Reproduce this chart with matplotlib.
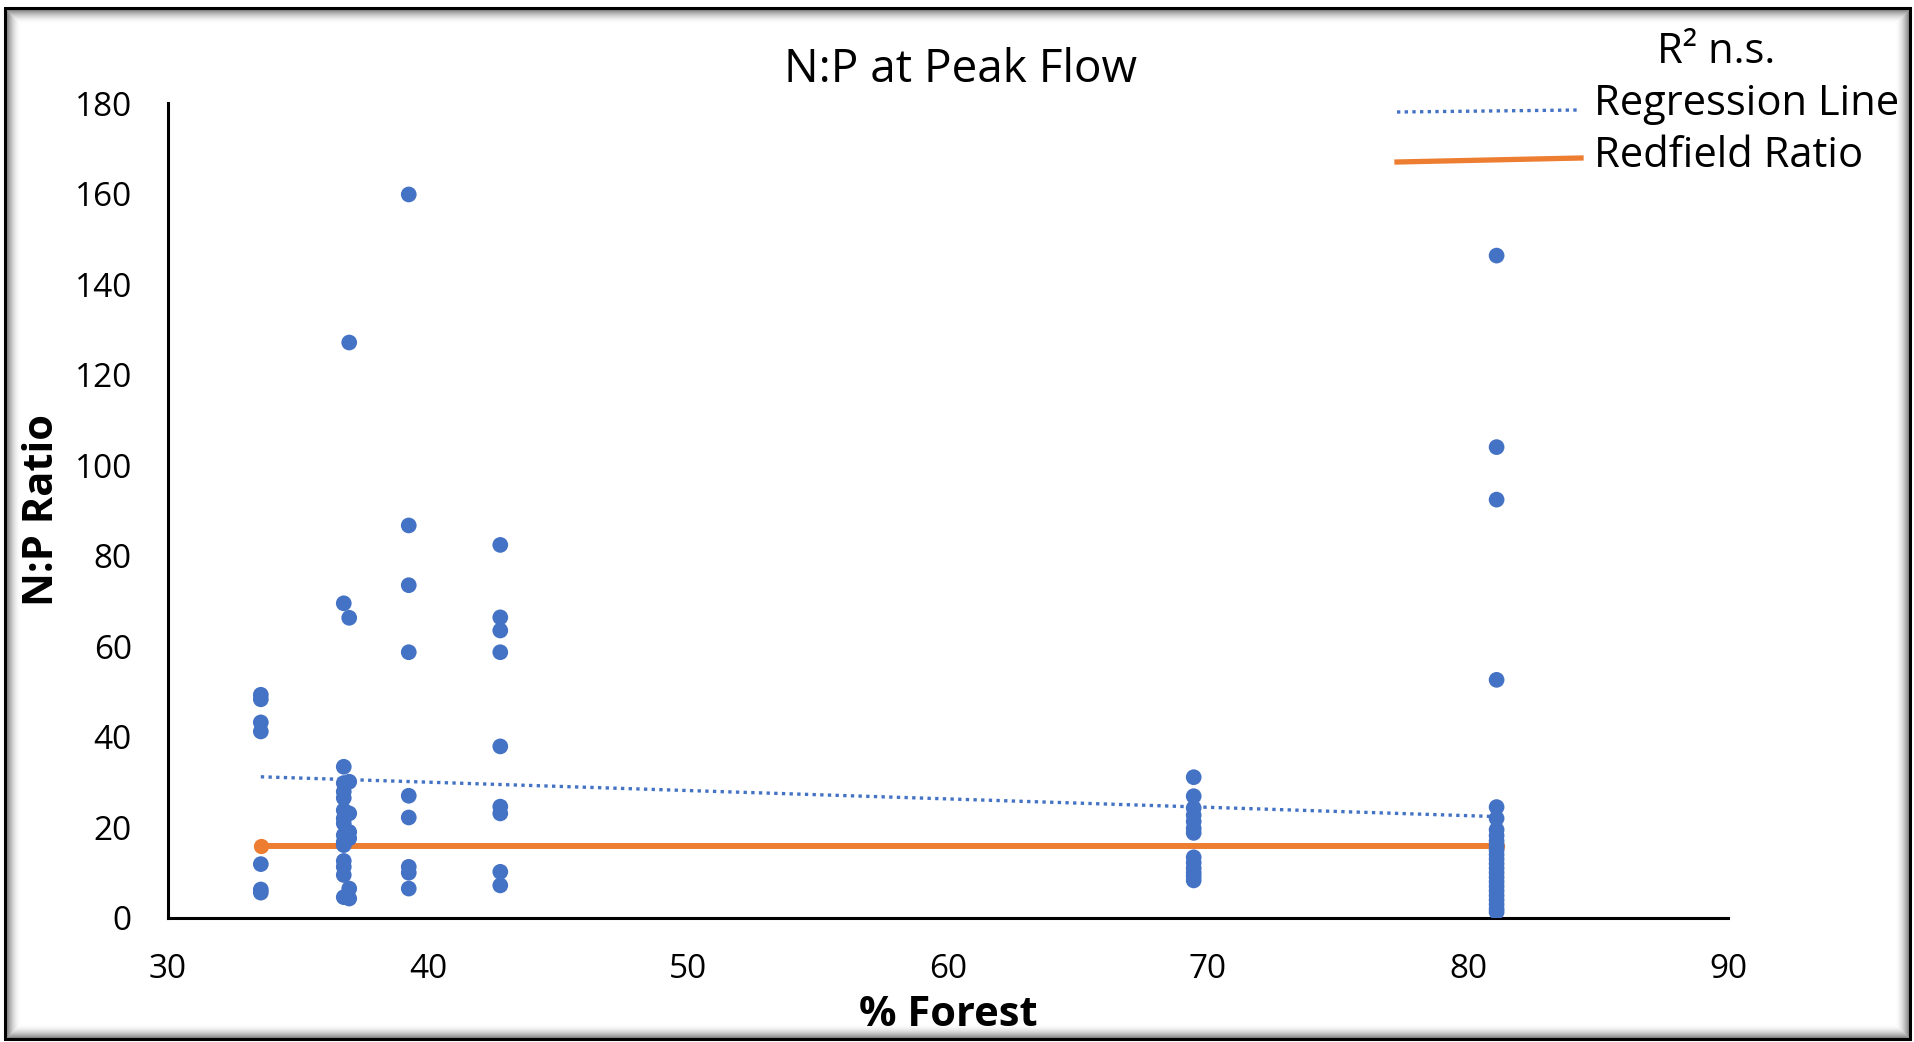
import numpy as np
import matplotlib
matplotlib.use("Agg")
import matplotlib.pyplot as plt
from matplotlib.lines import Line2D
from matplotlib.patches import Rectangle

plt.rcParams['font.family'] = ['Open Sans', 'DejaVu Sans']

# % forest cover of each site
site_forest = [33.57, 36.76, 36.97, 39.26, 42.78, 69.45, 81.1]

# N:P ratios sampled at peak flow, one list per site
site_np = [
    [49.3, 48.3, 43.2, 41.2, 11.9, 6.3, 5.6],
    [69.5, 33.4, 29.8, 27.9, 26.5, 23.8, 22.0, 20.9, 18.3, 16.8, 16.1,
     12.6, 11.3, 9.5, 4.6],
    [127.1, 66.3, 30.1, 23.1, 19.0, 17.6, 6.5, 4.3],
    [159.8, 86.7, 73.5, 58.7, 27.0, 22.2, 11.3, 10.0, 6.5],
    [82.4, 66.4, 63.5, 58.7, 37.9, 24.6, 23.1, 10.2, 7.2],
    [31.1, 26.9, 24.3, 22.7, 21.3, 19.8, 18.8, 13.4, 12.2, 11.0, 10.0,
     9.2, 8.3],
    [146.3, 104.0, 92.4, 52.6, 24.5, 22.0, 19.5, 18.2, 17.0, 16.0, 15.0,
     14.0, 13.0, 12.0, 11.0, 10.0, 9.0, 8.0, 7.0, 6.0, 5.0, 4.0, 3.0,
     2.0, 1.3],
]

# linear trend (not significant)
reg_slope = -0.185
reg_intercept = 37.4

redfield_ratio = 16

x_ticks = [30, 40, 50, 60, 70, 80, 90]
y_ticks = [0, 20, 40, 60, 80, 100, 120, 140, 160, 180]

BLUE = '#4472C4'
ORANGE = '#ED7D31'

W, H = 1915, 1042
fig = plt.figure(figsize=(W / 100, H / 100), dpi=100)


def fx(px):
    return px / W


def fy(py):
    return 1 - py / H


ax = fig.add_axes([fx(168), fy(918), fx(1728) - fx(168), fy(103) - fy(918)])

xs = np.concatenate([[x] * len(v) for x, v in zip(site_forest, site_np)])
ys = np.concatenate(site_np)

x_lo, x_hi = min(site_forest), max(site_forest)

ax.plot([x_lo, x_hi], [redfield_ratio, redfield_ratio], color=ORANGE,
        lw=4.3, marker='o', ms=11, mew=0, solid_capstyle='butt', zorder=2)

reg_x = np.array([x_lo, x_hi])
ax.plot(reg_x, reg_slope * reg_x + reg_intercept, color=BLUE, lw=2.4,
        ls=(0, (1, 1.3)), zorder=2.5)

ax.scatter(xs, ys, s=128, color=BLUE, edgecolors='none', zorder=3)

ax.set_xlim(30, 90)
ax.set_ylim(0, 180)
ax.set_xticks(x_ticks)
ax.set_yticks(y_ticks)
ax.tick_params(axis='both', length=0, labelsize=24, colors='#000000')
ax.tick_params(axis='x', pad=25)
ax.tick_params(axis='y', pad=26)
for side in ('top', 'right'):
    ax.spines[side].set_visible(False)
for side in ('left', 'bottom'):
    ax.spines[side].set_linewidth(2.2)
    ax.spines[side].set_color('#000000')

fig.text(fx(961), fy(81.7), 'N:P at Peak Flow', fontsize=33,
         ha='center', va='baseline')
fig.text(fx(43), fy(510), 'N:P Ratio', fontsize=30, fontweight='bold',
         rotation=90, ha='center', va='center')
fig.text(fx(948), fy(1015), '% Forest', fontsize=30, fontweight='bold',
         ha='center', va='center')

# key in the upper right corner
fig.text(fx(1716), fy(63), 'R² n.s.', fontsize=30, ha='center', va='baseline')
fig.text(fx(1594), fy(115), 'Regression Line', fontsize=30, ha='left',
         va='baseline')
fig.text(fx(1594), fy(167), 'Redfield Ratio', fontsize=30, ha='left',
         va='baseline')
fig.add_artist(Line2D([fx(1397), fx(1579)], [fy(112), fy(110)], color=BLUE,
                      lw=2.4, ls=(0, (1, 1.3)), transform=fig.transFigure))
fig.add_artist(Line2D([fx(1397), fx(1581)], [fy(162), fy(158)],
                      color=ORANGE, lw=3.8, transform=fig.transFigure))

# framed border with a soft inner shadow
x0, y0, x1, y1 = 5, 8, 1910, 1039
for i in range(14):
    a = 0.45 * (1 - i / 14) ** 2
    fig.add_artist(Rectangle((fx(x0 + 2 + i), fy(y1 - 2 - i)),
                             fx(x1 - x0 - 4 - 2 * i), fy(0) - fy(y1 - y0 - 4 - 2 * i),
                             transform=fig.transFigure, fill=False,
                             edgecolor=(0, 0, 0, a), lw=0.75))
fig.add_artist(Rectangle((fx(x0), fy(y1)), fx(x1 - x0), fy(0) - fy(y1 - y0),
                         transform=fig.transFigure, fill=False,
                         edgecolor='#000000', lw=2.2))

fig.savefig('out.png', dpi=100, facecolor='white')
